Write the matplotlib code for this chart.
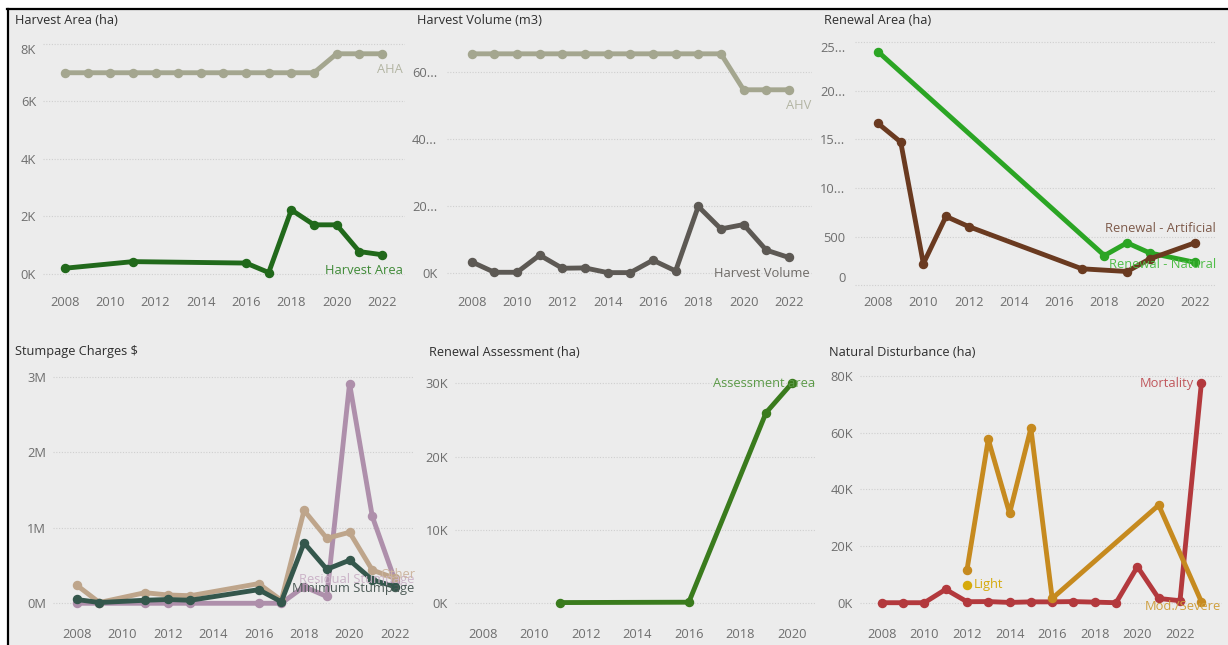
import numpy as np
import matplotlib
matplotlib.use('Agg')
import matplotlib.pyplot as plt

plt.rcParams['font.family'] = ['Open Sans', 'DejaVu Sans']

# ---- data ----
# Harvest Area (ha)
ha_years = [2008, 2011, 2016, 2017, 2018, 2019, 2020, 2021, 2022]
ha_vals = [200, 430, 380, 50, 2230, 1710, 1710, 780, 670]
aha_years = list(range(2008, 2023))
aha_vals = [7000] * 12 + [7660, 7660, 7660]

# Harvest Volume (m3)
hv_years = list(range(2008, 2023))
hv_vals = [3.4, 0.3, 0.3, 5.4, 1.5, 1.6, 0.2, 0.2, 3.9, 0.7, 19.9, 13.2, 14.5, 6.9, 4.7]
ahv_vals = [65.3] * 12 + [54.6, 54.6, 54.6]

# Renewal Area (ha)
nat_years = [2008, 2018, 2019, 2020, 2022]
nat_vals = [2400, 306, 437, 333, 236]
art_years = [2008, 2009, 2010, 2011, 2012, 2017, 2019, 2020, 2022]
art_vals = [1663, 1472, 222, 708, 604, 170, 142, 271, 437]

# Stumpage Charges $
st_years = [2008, 2009, 2011, 2012, 2013, 2016, 2017, 2018, 2019, 2020, 2021, 2022]
residual = [0, 0, 0, 0, 0, 0, 0, 0.22, 0.09, 2.91, 1.15, 0.30]
other = [0.24, 0.01, 0.14, 0.11, 0.10, 0.26, 0.04, 1.23, 0.86, 0.94, 0.44, 0.33]
minimum = [0.05, 0.01, 0.04, 0.05, 0.04, 0.18, 0.02, 0.80, 0.45, 0.57, 0.31, 0.22]

# Renewal Assessment (ha)
ra_years = [2011, 2016, 2019, 2020]
ra_vals = [100, 150, 26000, 30000]

# Natural Disturbance (ha)
mort_years = list(range(2008, 2024))
mort_vals = [0, 0, 0, 4.7, 0.35, 0.4, 0.1, 0.3, 0.3, 0.4, 0.2, 0, 12.7, 1.5, 0.7, 77.3]
sev_years = [2012, 2013, 2014, 2015, 2016, 2021, 2023]
sev_vals = [11.5, 57.6, 31.5, 61.5, 1.5, 34.4, 0.4]
light_years = [2012]
light_vals = [6.3]

W, H = 1228, 645
BG = '#ececec'
TICK = '#6e6e6e'
FS = 9.3
fig = plt.figure(figsize=(W / 100, H / 100), dpi=100)
fig.patch.set_facecolor(BG)

# white margin + black frame on top / left like the screenshot
fig.patches.append(plt.Rectangle((0, 1 - 8 / H), 1, 8 / H, transform=fig.transFigure,
                                 color='white', zorder=0))
fig.patches.append(plt.Rectangle((0, 0), 7 / W, 1, transform=fig.transFigure,
                                 color='white', zorder=0))
fig.add_artist(plt.Line2D([7 / W, 1], [1 - 9 / H, 1 - 9 / H], color='black', lw=1.6))
fig.add_artist(plt.Line2D([8 / W, 8 / W], [0, 1 - 9 / H], color='black', lw=1.6))


def panel(l, t, r, b, title, tx, ty):
    ax = fig.add_axes([l / W, 1 - b / H, (r - l) / W, (b - t) / H])
    ax.set_facecolor('none')
    for s in ax.spines.values():
        s.set_visible(False)
    ax.tick_params(length=0, labelsize=FS, labelcolor=TICK, pad=4)
    ax.grid(axis='y', color='#cfcfcf', lw=0.8, ls=(0, (1, 1.5)))
    ax.set_axisbelow(True)
    fig.text(tx / W, 1 - ty / H, title, fontsize=9.2, color='#2e2e2e', va='center', ha='left')
    return ax


def yticks(ax, ticks, labels, pad=5, top_in=True, bottom_in=False):
    ax.set_yticks(ticks)
    ax.set_yticklabels(labels)
    ax.tick_params(axis='y', pad=pad)
    tl = ax.get_yticklabels()
    if top_in:
        tl[-1].set_va('top')
    if bottom_in:
        tl[0].set_va('bottom')


def line(ax, x, y, color, lw=3.5, ms=5.8):
    ax.plot(x, y, color=color, lw=lw, marker='o', ms=ms, solid_joinstyle='round',
            solid_capstyle='round', clip_on=False)


def label(ax, x, y, text, color, dx, dy, ha='right'):
    ax.annotate(text, (x, y), xytext=(dx, dy), textcoords='offset points',
                ha=ha, va='center', fontsize=FS, color=color, annotation_clip=False)


# ---- Harvest Area ----
ax1 = panel(43, 35, 405, 290, 'Harvest Area (ha)', 15, 21)
line(ax1, aha_years, aha_vals, '#a4a68f')
line(ax1, ha_years, ha_vals, '#21691b')
ax1.set_xlim(2007.03, 2023.02)
ax1.set_ylim(-557, 8313)
yticks(ax1, [0, 2000, 4000, 6000, 8000], ['0K', '2K', '4K', '6K', '8K'])
ax1.set_xticks(range(2008, 2023, 2))
label(ax1, aha_years[-1], aha_vals[-1], 'AHA', '#b3b5a3', 15, -11.5)
label(ax1, ha_years[-1], ha_vals[-1], 'Harvest Area', '#3f8a37', 15, -11)

# ---- Harvest Volume ----
ax2 = panel(447, 35, 812, 290, 'Harvest Volume (m3)', 417, 21)
line(ax2, hv_years, ahv_vals, '#a4a68f')
line(ax2, hv_years, hv_vals, '#5d5954')
ax2.set_xlim(2006.91, 2023.02)
ax2.set_ylim(-4.97, 70.9)
yticks(ax2, [0, 20, 40, 60], ['0K', '20...', '40...', '60...'], pad=7, top_in=False)
ax2.set_xticks(range(2008, 2023, 2))
label(ax2, hv_years[-1], ahv_vals[-1], 'AHV', '#b3b5a3', 16, -11.5)
label(ax2, hv_years[-1], hv_vals[-1], 'Harvest Volume', '#6e6a66', 15, -11.5)

# ---- Renewal Area ----
ax3 = panel(855, 35, 1216, 290, 'Renewal Area (ha)', 824, 21)
line(ax3, nat_years, nat_vals, '#2ba524')
line(ax3, art_years, art_vals, '#6a3a20')
ax3.set_xlim(2006.98, 2022.93)
ax3.set_ylim(-48, 2572)
yticks(ax3, [0, 500, 1000, 1500, 2000, 2500], ['0', '500', '10...', '15...', '20...', '25...'],
       pad=7, bottom_in=True)
ax3.set_xticks(range(2008, 2023, 2))
label(ax3, art_years[-1], art_vals[-1], 'Renewal - Artificial', '#7d5a4a', 15, 10)
label(ax3, nat_years[-1], nat_vals[-1], 'Renewal - Natural', '#4fbd47', 15, -1.5)

# ---- Stumpage Charges ----
ax4 = panel(53, 365, 413, 622, 'Stumpage Charges $', 15, 352)
line(ax4, st_years, residual, '#ae8fab')
line(ax4, st_years, other, '#bea58b')
line(ax4, st_years, minimum, '#34574c')
ax4.set_xlim(2006.96, 2022.79)
ax4.set_ylim(-0.248, 3.155)
yticks(ax4, [0, 1, 2, 3], ['0M', '1M', '2M', '3M'], top_in=False)
ax4.set_xticks(range(2008, 2023, 2))
label(ax4, st_years[-1], residual[-1], 'Residual Stumpage', '#cbb3c8', 14, 1)
label(ax4, st_years[-1], other[-1], 'Other', '#cdb6a0', 15, 2.5)
label(ax4, st_years[-1], minimum[-1], 'Minimum Stumpage', '#4d5b57', 14, -1.5)

# ---- Renewal Assessment ----
ax5 = panel(455, 365, 815, 622, 'Renewal Assessment (ha)', 429, 352)
line(ax5, ra_years, ra_vals, '#3a7b1d')
ax5.set_xlim(2006.92, 2020.9)
ax5.set_ylim(-2550, 32500)
yticks(ax5, [0, 10000, 20000, 30000], ['0K', '10K', '20K', '30K'], top_in=False)
ax5.set_xticks(range(2008, 2021, 2))
label(ax5, ra_years[-1], ra_vals[-1], 'Assessment area', '#5c9a48', 16.5, 0)

# ---- Natural Disturbance ----
ax6 = panel(860, 365, 1222, 622, 'Natural Disturbance (ha)', 829, 352)
line(ax6, mort_years, mort_vals, '#b3393d')
line(ax6, sev_years, sev_vals, '#c68a1f')
ax6.plot(light_years, light_vals, 'o', color='#d6aa0b', ms=5.8)
ax6.set_xlim(2006.98, 2023.97)
ax6.set_ylim(-6.8, 83.8)
yticks(ax6, [0, 20, 40, 60, 80], ['0K', '20K', '40K', '60K', '80K'], top_in=False)
ax6.set_xticks(range(2008, 2023, 2))
label(ax6, mort_years[-1], mort_vals[-1], 'Mortality', '#c0575c', -5, 0)
label(ax6, light_years[0], light_vals[0], 'Light', '#d6aa0b', 5, 0, ha='left')
label(ax6, sev_years[-1], sev_vals[-1], 'Mod./Severe', '#d0a03e', 14, -3.7)

fig.savefig('out.png', dpi=100, facecolor=fig.get_facecolor())
